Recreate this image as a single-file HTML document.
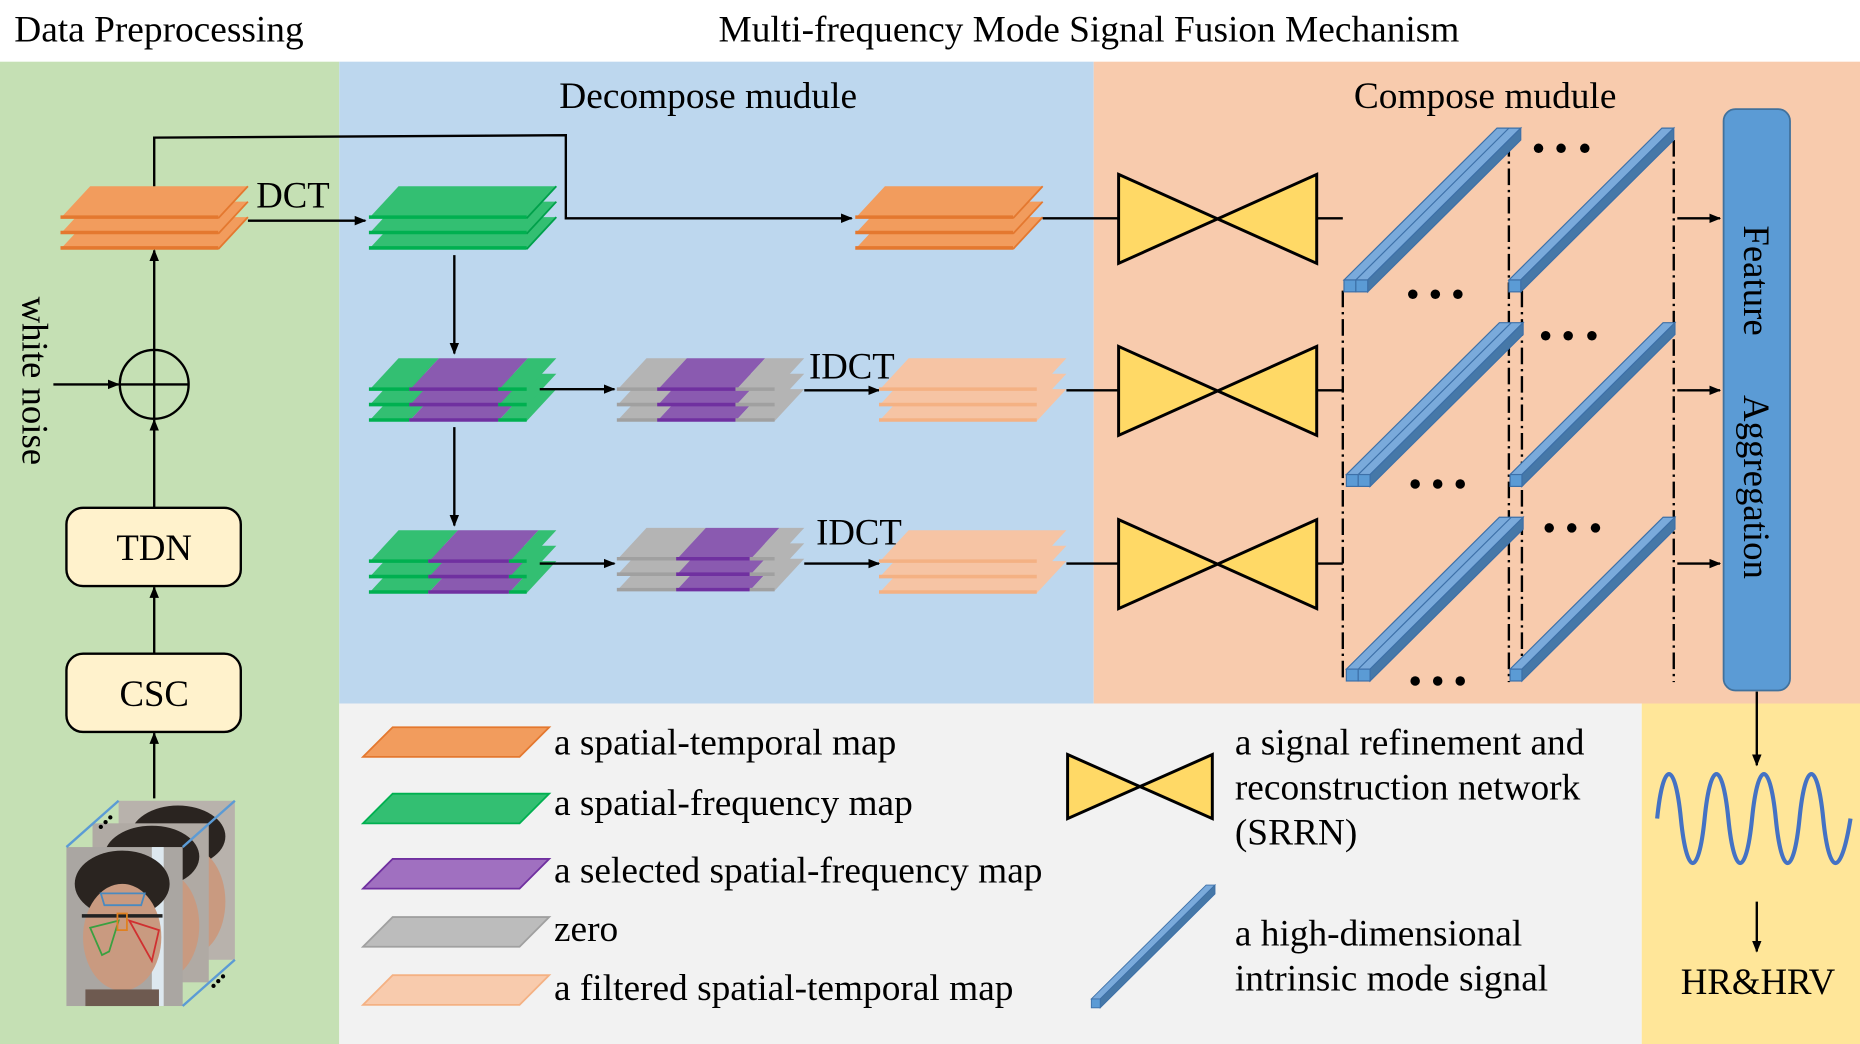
<!DOCTYPE html>
<html><head><meta charset="utf-8"><style>
html,body{margin:0;padding:0;background:#fff}
svg{display:block}
text{font-family:"Liberation Serif",serif;fill:#000}
</style></head><body>
<svg width="1860" height="1044" viewBox="0 0 1568 880" preserveAspectRatio="none" xmlns="http://www.w3.org/2000/svg">
<defs>
<marker id="ar" markerWidth="10" markerHeight="10" refX="9" refY="5" orient="auto" markerUnits="userSpaceOnUse"><path d="M0,1 L10,5 L0,9 z" fill="#000"/></marker>
<g id="layerO"><polygon points="0,27 133,27 158,0 25,0" fill="#f29c5d"/><line x1="0" y1="26" x2="133" y2="26" stroke="#e4782f" stroke-width="3"/><line x1="133" y1="27" x2="158" y2="0" stroke="#e4782f" stroke-width="1.5"/></g>
<g id="stackO"><use href="#layerO" y="26"/><use href="#layerO" y="13"/><use href="#layerO"/></g>
<g id="layerG"><polygon points="0,27 133,27 158,0 25,0" fill="#33bf72"/><line x1="0" y1="26" x2="133" y2="26" stroke="#00b050" stroke-width="3"/><line x1="133" y1="27" x2="158" y2="0" stroke="#00a04a" stroke-width="1.5"/></g>
<g id="stackG"><use href="#layerG" y="26"/><use href="#layerG" y="13"/><use href="#layerG"/></g>
<g id="layerP"><polygon points="0,27 133,27 158,0 25,0" fill="#f6c4a4"/><line x1="0" y1="26" x2="133" y2="26" stroke="#f4b183" stroke-width="3"/></g>
<g id="stackP"><use href="#layerP" y="26"/><use href="#layerP" y="13"/><use href="#layerP"/></g>
<g id="layerM">
<polygon points="0,27 34,27 59,0 25,0" fill="#33bf72"/>
<polygon points="34,27 109,27 134,0 59,0" fill="#8a5ab0"/>
<polygon points="109,27 133,27 158,0 134,0" fill="#33bf72"/>
<line x1="0" y1="26" x2="34" y2="26" stroke="#00b050" stroke-width="3"/>
<line x1="34" y1="26" x2="109" y2="26" stroke="#7030a0" stroke-width="3"/>
<line x1="109" y1="26" x2="133" y2="26" stroke="#00b050" stroke-width="3"/></g>
<g id="stackM"><use href="#layerM" y="26"/><use href="#layerM" y="13"/><use href="#layerM"/></g>
<g id="layerZ">
<polygon points="0,27 34,27 59,0 25,0" fill="#b4b4b4"/>
<polygon points="34,27 100,27 125,0 59,0" fill="#8a5ab0"/>
<polygon points="100,27 133,27 158,0 125,0" fill="#b4b4b4"/>
<line x1="0" y1="26" x2="34" y2="26" stroke="#a0a0a0" stroke-width="3"/>
<line x1="34" y1="26" x2="100" y2="26" stroke="#7030a0" stroke-width="3"/>
<line x1="100" y1="26" x2="133" y2="26" stroke="#a0a0a0" stroke-width="3"/></g>
<g id="stackZ"><use href="#layerZ" y="26"/><use href="#layerZ" y="13"/><use href="#layerZ"/></g>
<g id="layerZ2">
<polygon points="0,27 50,27 75,0 25,0" fill="#b4b4b4"/>
<polygon points="50,27 112,27 137,0 75,0" fill="#8a5ab0"/>
<polygon points="112,27 133,27 158,0 137,0" fill="#b4b4b4"/>
<line x1="0" y1="26" x2="50" y2="26" stroke="#a0a0a0" stroke-width="3"/>
<line x1="50" y1="26" x2="112" y2="26" stroke="#7030a0" stroke-width="3"/>
<line x1="112" y1="26" x2="133" y2="26" stroke="#a0a0a0" stroke-width="3"/></g>
<g id="stackZ2"><use href="#layerZ2" y="26"/><use href="#layerZ2" y="13"/><use href="#layerZ2"/></g>
<g id="layerM2">
<polygon points="0,27 50,27 75,0 25,0" fill="#33bf72"/>
<polygon points="50,27 118,27 143,0 75,0" fill="#8a5ab0"/>
<polygon points="118,27 133,27 158,0 143,0" fill="#33bf72"/>
<line x1="0" y1="26" x2="50" y2="26" stroke="#00b050" stroke-width="3"/>
<line x1="50" y1="26" x2="118" y2="26" stroke="#7030a0" stroke-width="3"/>
<line x1="118" y1="26" x2="133" y2="26" stroke="#00b050" stroke-width="3"/></g>
<g id="stackM2"><use href="#layerM2" y="26"/><use href="#layerM2" y="13"/><use href="#layerM2"/></g>
<g id="bow"><polygon points="0,0 167,75 167,0 0,75" fill="#ffd966" stroke="#000" stroke-width="2.5" stroke-linejoin="miter"/></g>
<g id="bar1">
<polygon points="0,0 10,0 139,-128 129,-128" fill="#7aaadb" stroke="#3d70a8" stroke-width="1"/>
<polygon points="10,0 10,10 139,-118 139,-128" fill="#4678a8" stroke="#3d70a8" stroke-width="1"/>
<rect x="0" y="0" width="10" height="10" fill="#5b9bd5" stroke="#3d70a8" stroke-width="1"/></g>
<g id="bar2">
<polygon points="0,0 20,0 149,-128 129,-128" fill="#7aaadb" stroke="#3d70a8" stroke-width="1"/>
<line x1="10" y1="0" x2="139" y2="-128" stroke="#3d70a8" stroke-width="1"/>
<polygon points="20,0 20,10 149,-118 149,-128" fill="#4678a8" stroke="#3d70a8" stroke-width="1"/>
<rect x="0" y="0" width="10" height="10" fill="#5b9bd5" stroke="#3d70a8" stroke-width="1"/>
<rect x="10" y="0" width="10" height="10" fill="#5b9bd5" stroke="#3d70a8" stroke-width="1"/></g>
</defs>

<rect x="0" y="0" width="1568" height="880" fill="#fff"/>
<rect x="0" y="52" width="286" height="828" fill="#c5e0b4"/>
<rect x="286" y="52" width="636" height="541" fill="#bdd7ee"/>
<rect x="922" y="52" width="646" height="541" fill="#f8cbad"/>
<rect x="286" y="593" width="1098" height="287" fill="#f2f2f2"/>
<rect x="1384" y="593" width="184" height="287" fill="#ffe699"/>

<text x="12" y="35" font-size="31.5">Data Preprocessing</text>
<text x="918" y="35" font-size="31.5" text-anchor="middle">Multi-frequency Mode Signal Fusion Mechanism</text>
<text x="597" y="91" font-size="31.5" text-anchor="middle">Decompose mudule</text>
<text x="1252" y="91" font-size="31.5" text-anchor="middle">Compose mudule</text>

<use href="#stackO" x="51" y="157"/>
<polyline points="130,157 130,116 477,114 477,184 718,184" fill="none" stroke="#000" stroke-width="2" marker-end="url(#ar)"/>
<line x1="209" y1="186" x2="308" y2="186" stroke="#000" stroke-width="2" marker-end="url(#ar)"/>
<text x="216" y="175" font-size="31">DCT</text>
<circle cx="130" cy="324" r="29" fill="none" stroke="#000" stroke-width="2"/>
<line x1="101" y1="324" x2="159" y2="324" stroke="#000" stroke-width="2"/>
<line x1="130" y1="295" x2="130" y2="353" stroke="#000" stroke-width="2"/>
<line x1="130" y1="295" x2="130" y2="211" stroke="#000" stroke-width="2" marker-end="url(#ar)"/>
<line x1="45" y1="324" x2="100" y2="324" stroke="#000" stroke-width="2" marker-end="url(#ar)"/>
<text x="0" y="0" font-size="31" transform="translate(19,250) rotate(90)">white noise</text>
<line x1="130" y1="428" x2="130" y2="354" stroke="#000" stroke-width="2" marker-end="url(#ar)"/>
<rect x="56" y="428" width="147" height="66" rx="14" fill="#fff2cc" stroke="#000" stroke-width="2"/>
<text x="130" y="472" font-size="31" text-anchor="middle">TDN</text>
<line x1="130" y1="551" x2="130" y2="495" stroke="#000" stroke-width="2" marker-end="url(#ar)"/>
<rect x="56" y="551" width="147" height="66" rx="14" fill="#fff2cc" stroke="#000" stroke-width="2"/>
<text x="130" y="595" font-size="31" text-anchor="middle">CSC</text>
<line x1="130" y1="673" x2="130" y2="618" stroke="#000" stroke-width="2" marker-end="url(#ar)"/>
<g>
<rect x="100" y="675" width="98" height="134" fill="#b8b2ac"/>
<ellipse cx="150" cy="705" rx="40" ry="26" fill="#2a2420"/>
<ellipse cx="160" cy="760" rx="30" ry="45" fill="#c99a80"/>
<rect x="78" y="694" width="98" height="134" fill="#b0aaa4"/>
<ellipse cx="128" cy="722" rx="40" ry="26" fill="#2a2420"/>
<ellipse cx="138" cy="780" rx="30" ry="45" fill="#c99a80"/>
<rect x="56" y="714" width="98" height="134" fill="#aaa6a2"/>
<rect x="128" y="714" width="10" height="134" fill="#dde8ef"/>
<ellipse cx="103" cy="745" rx="40" ry="28" fill="#2a2420"/>
<ellipse cx="103" cy="790" rx="33" ry="45" fill="#c99a80"/>
<rect x="72" y="834" width="62" height="14" fill="#6e5a50"/>
<line x1="69" y1="772" x2="137" y2="772" stroke="#222" stroke-width="3"/>
<polygon points="85,753 122,753 119,763 88,763" fill="none" stroke="#4a8ac0" stroke-width="1.5"/>
<polygon points="76,782 100,776 92,802 86,805" fill="none" stroke="#3aa040" stroke-width="1.5"/>
<polygon points="109,776 134,784 128,810" fill="none" stroke="#d03030" stroke-width="1.5"/>
<rect x="99" y="770" width="8" height="14" fill="none" stroke="#e08020" stroke-width="1.5"/>
<line x1="56" y1="714" x2="100" y2="675" stroke="#5b9bd5" stroke-width="2"/>
<line x1="154" y1="714" x2="198" y2="675" stroke="#5b9bd5" stroke-width="2"/>
<line x1="154" y1="848" x2="198" y2="809" stroke="#5b9bd5" stroke-width="2"/>
<circle cx="93" cy="689" r="1.8"/><circle cx="89" cy="693" r="1.8"/><circle cx="85" cy="697" r="1.8"/>
<circle cx="188" cy="823" r="1.8"/><circle cx="184" cy="827" r="1.8"/><circle cx="180" cy="831" r="1.8"/>
</g>

<use href="#stackG" x="311" y="157"/>
<line x1="383" y1="215" x2="383" y2="298" stroke="#000" stroke-width="2" marker-end="url(#ar)"/>
<use href="#stackO" x="721" y="157"/>
<use href="#stackM" x="311" y="302"/>
<line x1="383" y1="360" x2="383" y2="443" stroke="#000" stroke-width="2" marker-end="url(#ar)"/>
<line x1="455" y1="328" x2="518" y2="328" stroke="#000" stroke-width="2" marker-end="url(#ar)"/>
<use href="#stackZ" x="520" y="302"/>
<line x1="678" y1="329" x2="741" y2="329" stroke="#000" stroke-width="2" marker-end="url(#ar)"/>
<text x="682" y="319" font-size="31">IDCT</text>
<use href="#stackP" x="741" y="302"/>
<use href="#stackM2" x="311" y="447"/>
<line x1="455" y1="475" x2="518" y2="475" stroke="#000" stroke-width="2" marker-end="url(#ar)"/>
<use href="#stackZ2" x="520" y="445"/>
<line x1="678" y1="475" x2="741" y2="475" stroke="#000" stroke-width="2" marker-end="url(#ar)"/>
<text x="688" y="459" font-size="31">IDCT</text>
<use href="#stackP" x="741" y="447"/>

<line x1="879" y1="184" x2="943" y2="184" stroke="#000" stroke-width="2"/>
<line x1="899" y1="329" x2="943" y2="329" stroke="#000" stroke-width="2"/>
<line x1="899" y1="475" x2="943" y2="475" stroke="#000" stroke-width="2"/>
<use href="#bow" x="943" y="147"/>
<use href="#bow" x="943" y="292"/>
<use href="#bow" x="943" y="438"/>
<line x1="1110" y1="184" x2="1132" y2="184" stroke="#000" stroke-width="2"/>
<line x1="1110" y1="329" x2="1132" y2="329" stroke="#000" stroke-width="2"/>
<line x1="1110" y1="475" x2="1132" y2="475" stroke="#000" stroke-width="2"/>
<g stroke="#000" stroke-width="2" stroke-dasharray="14,4,2,4" fill="none">
<line x1="1132" y1="245" x2="1132" y2="575"/>
<line x1="1272" y1="118" x2="1272" y2="575"/>
<line x1="1283" y1="245" x2="1283" y2="575"/>
<line x1="1411" y1="118" x2="1411" y2="575"/>
</g>
<use href="#bar2" x="1133" y="236"/>
<use href="#bar1" x="1272" y="236"/>
<use href="#bar2" x="1135" y="400"/>
<use href="#bar1" x="1273" y="400"/>
<use href="#bar2" x="1135" y="564"/>
<use href="#bar1" x="1273" y="564"/>
<g fill="#000">
<circle cx="1297" cy="125" r="4"/><circle cx="1316" cy="125" r="4"/><circle cx="1336" cy="125" r="4"/>
<circle cx="1191" cy="248" r="4"/><circle cx="1210" cy="248" r="4"/><circle cx="1229" cy="248" r="4"/>
<circle cx="1303" cy="283" r="4"/><circle cx="1322" cy="283" r="4"/><circle cx="1342" cy="283" r="4"/>
<circle cx="1193" cy="408" r="4"/><circle cx="1212" cy="408" r="4"/><circle cx="1231" cy="408" r="4"/>
<circle cx="1306" cy="445" r="4"/><circle cx="1325" cy="445" r="4"/><circle cx="1345" cy="445" r="4"/>
<circle cx="1193" cy="574" r="4"/><circle cx="1212" cy="574" r="4"/><circle cx="1231" cy="574" r="4"/>
</g>
<line x1="1414" y1="184" x2="1450" y2="184" stroke="#000" stroke-width="2" marker-end="url(#ar)"/>
<line x1="1414" y1="329" x2="1450" y2="329" stroke="#000" stroke-width="2" marker-end="url(#ar)"/>
<line x1="1414" y1="475" x2="1450" y2="475" stroke="#000" stroke-width="2" marker-end="url(#ar)"/>
<rect x="1453" y="92" width="56" height="490" rx="10" fill="#5b9bd5" stroke="#41719c" stroke-width="1.5"/>
<text font-size="31" transform="translate(1470,190) rotate(90)">Feature</text>
<text font-size="31" transform="translate(1470,333) rotate(90)">Aggregation</text>
<line x1="1481" y1="583" x2="1481" y2="645" stroke="#000" stroke-width="2" marker-end="url(#ar)"/>
<path d="M1397,690 C1402,640 1412,640 1417,690 S1432,740 1437,690 S1452,640 1457,690 S1472,740 1477,690 S1492,640 1497,690 S1512,740 1517,690 S1532,640 1537,690 S1552,740 1560,690" fill="none" stroke="#4472c4" stroke-width="3.5"/>
<line x1="1481" y1="760" x2="1481" y2="802" stroke="#000" stroke-width="2" marker-end="url(#ar)"/>
<text x="1482" y="838" font-size="31" text-anchor="middle">HR&amp;HRV</text>

<polygon points="306,638 438,638 463,613 331,613" fill="#f29c5d" stroke="#e4782f" stroke-width="1.5"/>
<polygon points="306,694 438,694 463,669 331,669" fill="#33bf72" stroke="#00b050" stroke-width="1.5"/>
<polygon points="306,749 438,749 463,724 331,724" fill="#a070c0" stroke="#7030a0" stroke-width="1.5"/>
<polygon points="306,798 438,798 463,773 331,773" fill="#bcbcbc" stroke="#a0a0a0" stroke-width="1.5"/>
<polygon points="306,847 438,847 463,822 331,822" fill="#f8cbad" stroke="#f4b183" stroke-width="1.5"/>
<text x="467" y="636" font-size="31.5">a spatial-temporal map</text>
<text x="467" y="687" font-size="31.5">a spatial-frequency map</text>
<text x="467" y="744" font-size="31.5">a selected spatial-frequency map</text>
<text x="467" y="793" font-size="31.5">zero</text>
<text x="467" y="843" font-size="31.5">a filtered spatial-temporal map</text>
<polygon points="900,636 1022,690 1022,636 900,690" fill="#ffd966" stroke="#000" stroke-width="2.5"/>
<g transform="translate(920,842) scale(0.75)"><use href="#bar1"/></g>
<text x="1041" y="636" font-size="31.5">a signal refinement and</text>
<text x="1041" y="674" font-size="31.5">reconstruction network</text>
<text x="1041" y="712" font-size="31.5">(SRRN)</text>
<text x="1041" y="797" font-size="31.5">a high-dimensional</text>
<text x="1041" y="835" font-size="31.5">intrinsic mode signal</text>
</svg>
</body></html>
